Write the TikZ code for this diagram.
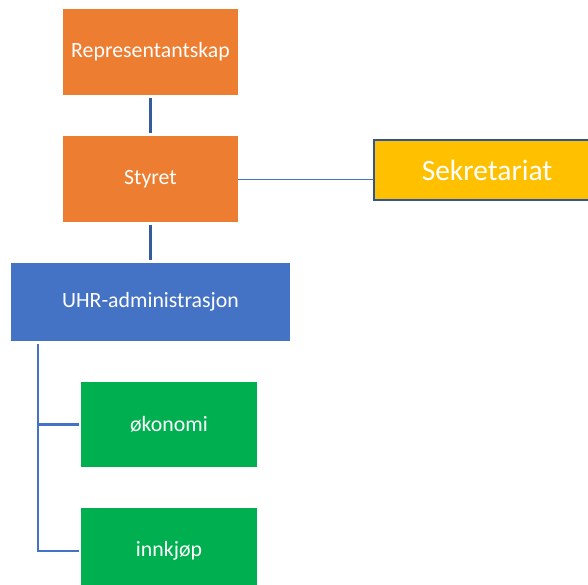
\documentclass[tikz,border=0pt]{standalone}
\usepackage{fontspec}
\setmainfont{Carlito}
\definecolor{orgorange}{HTML}{ED7D31}
\definecolor{orgyellow}{HTML}{FFC000}
\definecolor{orgblue}{HTML}{4472C4}
\definecolor{orgdark}{HTML}{2F5597}
\definecolor{orggreen}{HTML}{00B050}
\tikzset{
  unit/.style={text=white, font=\fontsize{21.8}{26}\selectfont, inner sep=0pt,
    minimum width=175pt, minimum height=86pt},
  link/.style={orgdark!80!orgblue, line width=2.5pt},
  branch/.style={orgblue, line width=2.5pt},
}
\begin{document}
\begin{tikzpicture}[x=1pt, y=-1pt]
        \useasboundingbox (0,0) rectangle (588,584);
        % boxes
        \node[unit, fill=orgorange] (repr) at (150.5,52) {Representantskap};
        \node[unit, fill=orgorange] (styret) at (150.5,179) {Styret};
        \node[unit, fill=orgyellow, draw=orgdark, line width=1.5pt, minimum width=226pt,
          minimum height=60pt, font=\fontsize{29.5}{34}\selectfont] (sek) at (487,170) {Sekretariat};
        \node[unit, fill=orgblue, minimum width=279pt, minimum height=78pt] (uhr) at (150.5,302) {UHR-administrasjon};
        \node[unit, fill=orggreen, minimum width=176pt, minimum height=85pt] (okonomi) at (169,424.5) {økonomi};
        \node[unit, fill=orggreen, minimum width=176pt] (innkjop) at (169,551) {innkjøp};
        % lines
        \draw[link, shorten <=3pt, shorten >=3pt] (repr) -- (styret);
        \draw[link, shorten <=3pt, shorten >=3pt] (styret) -- (uhr);
        \draw[orgblue, line width=1pt] (styret.east) -- (sek.west |- styret.east);
        \draw[branch, shorten >=2pt] ([xshift=27pt, yshift=-3pt]uhr.south west) |- (okonomi.west);
        \draw[branch, shorten >=2pt] ([xshift=27pt, yshift=-3pt]uhr.south west) |- (innkjop.west);
      \end{tikzpicture}
\end{document}
